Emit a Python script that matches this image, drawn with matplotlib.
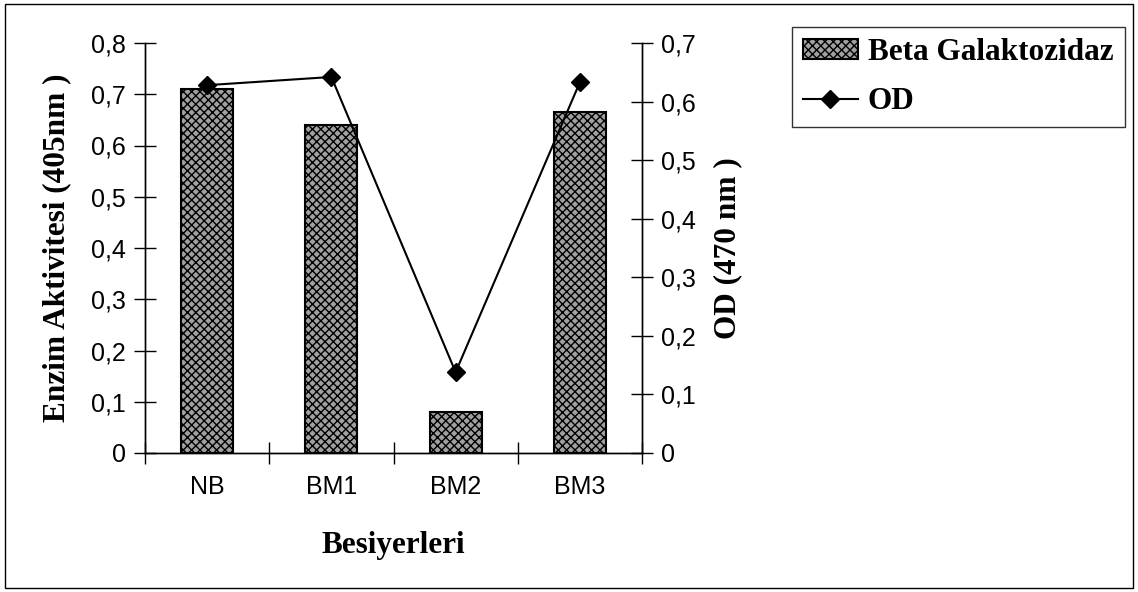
import matplotlib.pyplot as plt
import matplotlib as mpl
import numpy as np

categories = ["NB", "BM1", "BM2", "BM3"]
enzyme_activity = [0.71, 0.64, 0.08, 0.665]
od_values = [0.628, 0.642, 0.138, 0.633]
left_ticks = [0, 0.1, 0.2, 0.3, 0.4, 0.5, 0.6, 0.7, 0.8]
right_ticks = [0, 0.1, 0.2, 0.3, 0.4, 0.5, 0.6, 0.7]

def comma(v):
    return ("%g" % v).replace(".", ",")

mpl.rcParams['hatch.linewidth'] = 1.0
mpl.rcParams['hatch.color'] = 'black'

fig = plt.figure(figsize=(11.38, 5.92), dpi=100)
W, H = 1138, 592
ax = fig.add_axes([145 / W, 1 - 453 / H, (642 - 145) / W, (453 - 43) / H])

x = np.arange(len(categories))
ax.bar(x, enzyme_activity, width=0.42, facecolor='#a0a0a0', edgecolor='black',
       linewidth=1.5, hatch='xxxx', label='Beta Galaktozidaz', zorder=2)
ax.set_xlim(-0.5, len(categories) - 0.5)
ax.set_ylim(0, 0.8)
ax.set_yticks(left_ticks)
ax.set_yticklabels([comma(v) for v in left_ticks])
ax.set_xticks(x)
ax.set_xticklabels(categories)
ax.set_xticks(np.arange(-0.5, len(categories) + 0.5, 1.0), minor=True)
ax.tick_params(axis='x', which='major', length=0, pad=16)
ax.tick_params(axis='x', which='minor', direction='inout', length=16, width=1)
ax.tick_params(axis='y', direction='inout', length=16, width=1, pad=6)

ax2 = ax.twinx()
ax2.plot(x, od_values, color='black', linewidth=1.5, marker='D', markersize=9,
         label='OD', zorder=3)
ax2.set_ylim(0, 0.7)
ax2.set_yticks(right_ticks)
ax2.set_yticklabels([comma(v) for v in right_ticks])
ax2.tick_params(axis='y', direction='inout', length=16, width=1, pad=6)

for a in (ax, ax2):
    a.spines['top'].set_visible(False)
    for s in a.spines.values():
        s.set_linewidth(1)
    for lbl in a.get_yticklabels() + a.get_xticklabels():
        lbl.set_fontfamily('Liberation Sans')
        lbl.set_fontsize(18)

serif = dict(fontfamily='Liberation Serif', fontweight='bold', fontsize=22.5)
ax.set_ylabel("Enzim Aktivitesi (405nm )", labelpad=14, **serif)
ax2.set_ylabel("OD (470 nm )", labelpad=12, **serif)
ax.set_xlabel("Besiyerleri", labelpad=23, **serif)

h1, l1 = ax.get_legend_handles_labels()
h2, l2 = ax2.get_legend_handles_labels()
leg = fig.legend(h1 + h2, l1 + l2, loc='upper left',
                 bbox_to_anchor=(792 / W, 1 - 27 / H),
                 prop=dict(family='Liberation Serif', weight='bold', size=22.5),
                 frameon=True, fancybox=False, edgecolor='black',
                 borderpad=0.35, borderaxespad=0, handlelength=1.76,
                 handleheight=0.6, handletextpad=0.32, labelspacing=0.65)
leg.get_frame().set_linewidth(1)

fig.patches.append(mpl.patches.Rectangle((5 / W, 4 / H), 1128 / W, 584 / H,
                                         transform=fig.transFigure, fill=False,
                                         edgecolor='black', linewidth=1))

fig.savefig("out.png", dpi=100)
